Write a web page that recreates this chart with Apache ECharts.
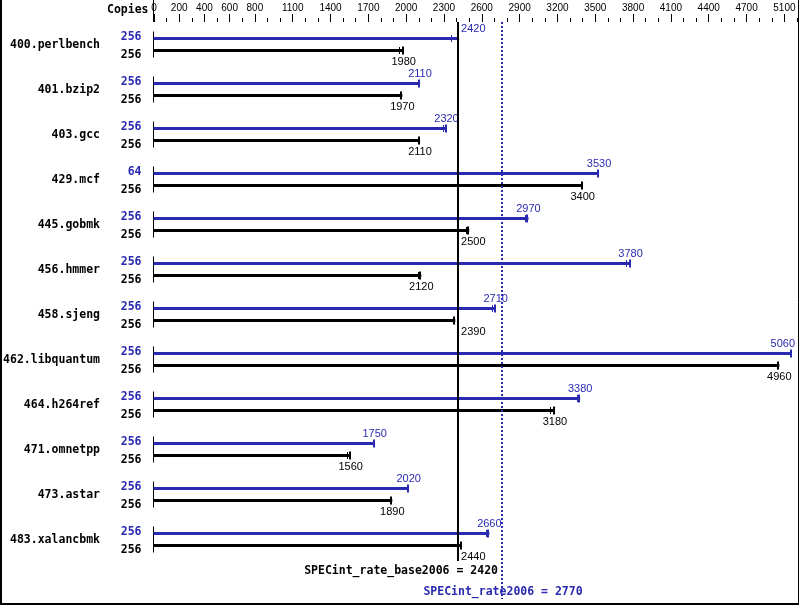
<!DOCTYPE html>
<html><head><meta charset="utf-8">
<script src="https://cdn.jsdelivr.net/npm/echarts@6/dist/echarts.min.js"></script>
<style>html,body{margin:0;padding:0;background:#fff}#c{width:799px;height:606px}</style>
</head><body><div id="c"></div>
<script>
const benchmarks = ['400.perlbench','401.bzip2','403.gcc','429.mcf','445.gobmk','456.hmmer','458.sjeng','462.libquantum','464.h264ref','471.omnetpp','473.astar','483.xalancbmk'];
const peakCopies = ['256','256','256','64','256','256','256','256','256','256','256','256'];
const baseCopies = ['256','256','256','256','256','256','256','256','256','256','256','256'];
const peakValues = [2420,2110,2320,3530,2970,3780,2710,5060,3380,1750,2020,2660];
const baseValues = [1980,1970,2110,3400,2500,2120,2390,4960,3180,1560,1890,2440];
const peakOtherRuns = [2365,null,2300,null,2950,3755,2690,null,3360,null,null,2643];
const baseOtherRuns = [1955,null,null,null,2480,2105,null,null,3150,1540,null,null];
const tickLabelValues = [0,200,400,600,800,1100,1400,1700,2000,2300,2600,2900,3200,3500,3800,4100,4400,4700,5000];
const tickLabelTexts = ['0','200','400','600','800','1100','1400','1700','2000','2300','2600','2900','3200','3500','3800','4100','4400','4700','5100'];
const baseMean = 2420, peakMean = 2770;
const baseMeanLabel = 'SPECint_rate_base2006 = 2420';
const peakMeanLabel = 'SPECint_rate2006 = 2770';

const BLUE = '#2a2ab0', BLACK = '#000';
const MONO = '"DejaVu Sans Mono", monospace';
const SANS = '"Liberation Sans", Arial, sans-serif';

const chart = echarts.init(document.getElementById('c'), null, {renderer:'canvas'});

function valueLabel(api, i, v, xEnd, y, color, refX, right) {
  const text = String(v);
  const w = text.length * 6.1;
  let x = xEnd, align = 'center';
  if (xEnd - w/2 < refX && xEnd + w/2 > refX + 1) { x = refX + 2; align = 'left'; }
  if (x + (align === 'center' ? w/2 : w) > right) { x = right; align = 'right'; }
  return {type:'text', style:{text, x, y, align, verticalAlign:'middle', fill:color, font:'11px ' + SANS}};
}

function renderRow(params, api) {
  const i = params.dataIndex;
  const cs = params.coordSys;
  const zero = api.coord([0, i]);
  const x0 = Math.round(zero[0]) - 0.5;
  const yc = zero[1];
  const yP = Math.round(yc - 6) + 0.5;
  const yB = Math.round(yc + 6.5) + 0.5;
  const xP = api.coord([peakValues[i], i])[0];
  const xB = api.coord([baseValues[i], i])[0];
  const refX = api.coord([baseMean, i])[0];
  const right = cs.x + cs.width - 2;
  const ch = [];
  ch.push({type:'line', shape:{x1:x0, y1:yP-7, x2:x0, y2:yB+7}, style:{stroke:BLACK, lineWidth:1}});
  ch.push({type:'line', shape:{x1:x0, y1:yP, x2:xP, y2:yP}, style:{stroke:BLUE, lineWidth:3}});
  ch.push({type:'line', shape:{x1:x0, y1:yB, x2:xB, y2:yB}, style:{stroke:BLACK, lineWidth:3}});
  ch.push({type:'line', shape:{x1:Math.round(xP)-1, y1:yP-4, x2:Math.round(xP)-1, y2:yP+4}, style:{stroke:BLUE, lineWidth:2}});
  ch.push({type:'line', shape:{x1:Math.round(xB)-1, y1:yB-4, x2:Math.round(xB)-1, y2:yB+4}, style:{stroke:BLACK, lineWidth:2}});
  if (peakOtherRuns[i] != null) {
    const xo = Math.round(api.coord([peakOtherRuns[i], i])[0]) - 0.5;
    ch.push({type:'line', shape:{x1:xo, y1:yP-3.5, x2:xo, y2:yP+3.5}, style:{stroke:BLUE, lineWidth:1}});
  }
  if (baseOtherRuns[i] != null) {
    const xo = Math.round(api.coord([baseOtherRuns[i], i])[0]) - 0.5;
    ch.push({type:'line', shape:{x1:xo, y1:yB-3.5, x2:xo, y2:yB+3.5}, style:{stroke:BLACK, lineWidth:1}});
  }
  ch.push(valueLabel(api, i, peakValues[i], xP, yP - 10, BLUE, refX, right));
  ch.push(valueLabel(api, i, baseValues[i], xB, yB + 11, BLACK, refX, right));
  ch.push({type:'text', style:{text:peakCopies[i], x:x0-12, y:yc-6.5, align:'right', verticalAlign:'middle', fill:BLUE, font:'bold 11.5px ' + MONO}});
  ch.push({type:'text', style:{text:baseCopies[i], x:x0-12, y:yc+12, align:'right', verticalAlign:'middle', fill:BLACK, font:'bold 11.5px ' + MONO}});
  return {type:'group', children:ch};
}

function renderRef(params, api) {
  const cs = params.coordSys;
  const xb = Math.round(api.coord([baseMean, 0])[0]);
  const xp = Math.round(api.coord([peakMean, 0])[0]);
  const bottom = cs.y + cs.height;
  if (params.dataIndex === 0) {
    return {type:'group', children:[
      {type:'line', shape:{x1:xb-1, y1:cs.y+1, x2:xb-1, y2:bottom}, style:{stroke:BLACK, lineWidth:2}},
      {type:'text', style:{text:baseMeanLabel, x:xp-5, y:bottom+10, align:'right', verticalAlign:'middle', fill:BLACK, font:'bold 11.5px ' + MONO}}
    ]};
  }
  return {type:'group', children:[
    {type:'line', shape:{x1:xp-1, y1:cs.y+1, x2:xp-1, y2:bottom+38}, style:{stroke:BLUE, lineWidth:2, lineDash:[2,2]}},
    {type:'text', style:{text:peakMeanLabel, x:xp, y:bottom+31, align:'center', verticalAlign:'middle', fill:BLUE, font:'bold 11.5px ' + MONO}}
  ]};
}

const option = {
  animation:false,
  backgroundColor:'#fff',
  grid:{left:154, top:21, width:643, height:540},
  xAxis:[
    {type:'value', position:'top', min:0, max:5100, interval:100, offset:-1,
     axisLine:{show:false}, splitLine:{show:false},
     axisTick:{show:true, length:4, lineStyle:{color:BLACK, width:1}},
     axisLabel:{show:false}},
    {type:'value', position:'top', min:0, max:5100, offset:-1,
     axisLine:{show:false}, splitLine:{show:false},
     axisTick:{show:true, length:8, customValues:tickLabelValues, lineStyle:{color:BLACK, width:1}},
     axisLabel:{show:true, customValues:tickLabelValues, margin:9,
       formatter:v => tickLabelTexts[tickLabelValues.indexOf(v)],
       fontFamily:SANS, fontSize:10, color:BLACK}}
  ],
  yAxis:{type:'category', inverse:true, data:benchmarks,
    axisLine:{show:false}, axisTick:{show:false}, splitLine:{show:false},
    axisLabel:{margin:54, formatter:v => '{n|' + v + '}',
      rich:{n:{fontFamily:MONO, fontWeight:'bold', fontSize:11.5, color:BLACK, padding:[4,0,0,0]}}}},
  graphic:[
    {type:'text', left:107, top:4, style:{text:'Copies', fill:BLACK, font:'bold 11.5px ' + MONO}},
    {type:'line', shape:{x1:153.5, y1:0, x2:153.5, y2:22}, style:{stroke:BLACK, lineWidth:1}},
    {type:'line', shape:{x1:1, y1:0, x2:1, y2:605}, style:{stroke:BLACK, lineWidth:2}},
    {type:'line', shape:{x1:0, y1:604, x2:799, y2:604}, style:{stroke:BLACK, lineWidth:2}},
    {type:'line', shape:{x1:798.5, y1:0, x2:798.5, y2:605}, style:{stroke:BLACK, lineWidth:1}}
  ],
  series:[
    {type:'custom', xAxisIndex:0, renderItem:renderRow, data:benchmarks.map((n,i)=>[peakValues[i], i]), encode:{x:0, y:1}, z:2, silent:true},
    {type:'custom', xAxisIndex:0, renderItem:renderRef, data:[[baseMean, 0],[peakMean, 0]], encode:{x:0, y:1}, z:3, silent:true}
  ]
};
chart.setOption(option);
</script></body></html>
